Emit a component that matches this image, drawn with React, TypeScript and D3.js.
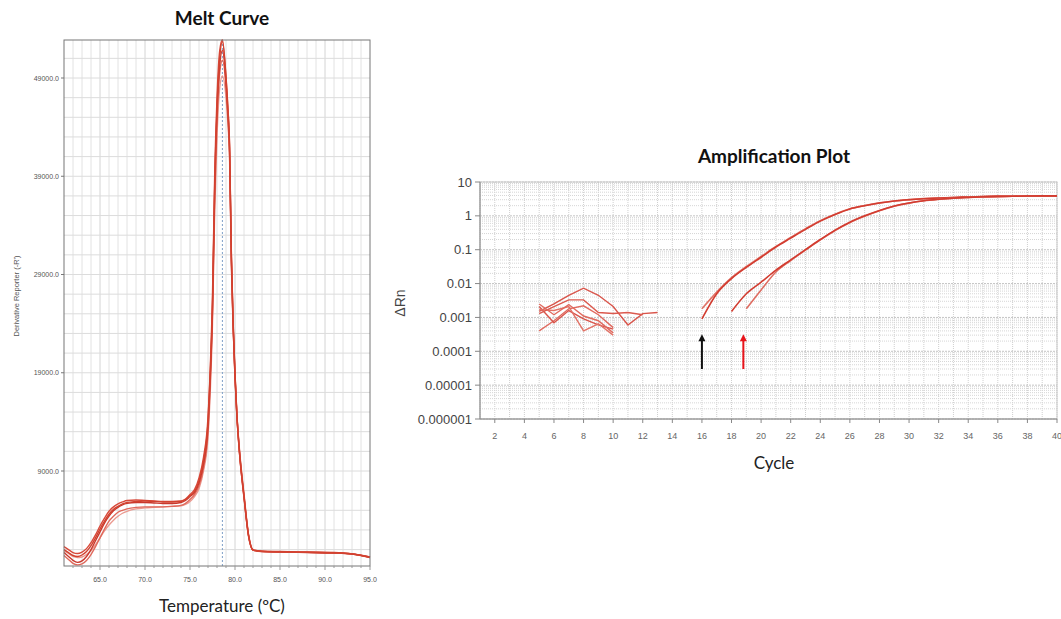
import React from "react";
import * as d3 from "d3";

// ---------- Melt curve data ----------
const meltTemps = [61, 61.5, 62, 62.5, 63, 63.5, 64, 64.5, 65, 65.5, 66, 66.5, 67, 67.5, 68, 69, 70, 71, 72, 73, 74, 74.5, 75, 75.5, 76, 76.5, 77, 77.25, 77.5, 77.75, 78, 78.3, 78.6, 79, 79.2, 79.4, 79.6, 79.8, 80, 80.2, 80.5, 81, 81.5, 82, 83, 85, 88, 91, 93, 95];
const melt1 = [1000, 700, 400, 300, 450, 800, 1400, 2200, 3100, 3900, 4600, 5100, 5400, 5650, 5800, 5900, 5950, 5900, 5850, 5850, 5900, 6100, 6500, 6900, 8000, 10000, 14000, 19000, 26000, 38500, 46000, 51000, 52700, 49000, 46000, 42000, 31000, 24000, 19000, 15000, 11000, 6500, 2500, 1000, 850, 800, 750, 700, 550, 200];
const melt2 = [700, 300, -100, -300, -150, 300, 1000, 1900, 2800, 3700, 4400, 4950, 5300, 5550, 5700, 5800, 5800, 5750, 5700, 5700, 5800, 6000, 6400, 6800, 7800, 9700, 13500, 18500, 25500, 38000, 45500, 50300, 51800, 48500, 45500, 41500, 30500, 23500, 18500, 14700, 10800, 6300, 2400, 950, 800, 750, 700, 650, 550, 250];
const melt3 = [400, 0, -400, -550, -450, -100, 500, 1300, 2200, 3100, 3900, 4400, 4800, 5000, 5150, 5300, 5350, 5350, 5350, 5400, 5500, 5700, 6100, 6600, 7500, 9300, 13000, 18000, 25000, 37000, 44500, 49500, 50800, 48000, 45000, 41000, 30000, 23500, 18500, 14800, 11000, 6500, 2500, 950, 820, 760, 720, 660, 560, 230];
const melt4 = [900, 600, 300, 200, 250, 500, 900, 1500, 2200, 2900, 3500, 4000, 4400, 4700, 4900, 5150, 5250, 5300, 5350, 5400, 5450, 5600, 5900, 6400, 7200, 9000, 12500, 17000, 24000, 35500, 43000, 48000, 49200, 47000, 44500, 40500, 30000, 23500, 18800, 15000, 11200, 6700, 2600, 1000, 830, 780, 740, 690, 580, 260];
const melt5 = [1300, 1000, 700, 600, 750, 1100, 1700, 2500, 3400, 4200, 4900, 5350, 5650, 5850, 6000, 6050, 6000, 5950, 5900, 5900, 5950, 6150, 6600, 7100, 8300, 10400, 14500, 19500, 27000, 39500, 47000, 51800, 52900, 49200, 46200, 42000, 30800, 23800, 18800, 14800, 10800, 6300, 2400, 950, 800, 780, 720, 680, 560, 200];
const meltColors = ["#d2412f", "#c9382c", "#e0695c", "#eb9a90", "#d84a3b"];
const meltXTicks = [65, 70, 75, 80, 85, 90, 95];
const meltYTicks = [9000, 19000, 29000, 39000, 49000];
const meltTm = 78.6;

// ---------- Amplification data ----------
const noiseCycles1 = [5, 6, 7, 8, 9, 10, 11, 12, 13];
const noise1 = [0.0015, 0.0025, 0.0045, 0.0073, 0.0045, 0.0021, 0.0006, 0.0013, 0.0014];
const noiseCycles2 = [5, 6, 7, 8, 9, 10];
const noise2 = [0.0004, 0.0008, 0.0018, 0.0022, 0.0012, 0.0005];
const noise3 = [0.0021, 0.0007, 0.0016, 0.0009, 0.0006, 0.00045];
const noise4 = [0.0017, 0.0016, 0.0021, 0.0004, 0.00065, 0.0003];
const noiseCycles5 = [5, 6, 7, 8, 9, 10, 11, 12];
const noise5 = [0.0013, 0.0021, 0.0033, 0.0033, 0.0014, 0.0013, 0.0014, 0.0012];
const noise6 = [0.0025, 0.0012, 0.0024, 0.0011, 0.0008, 0.00035];

const earlyCycles = [16, 17, 18, 19, 20, 21, 22, 23, 24, 25, 26, 27, 28, 29, 30, 31, 32, 33, 34, 35, 36, 37, 38, 39, 40];
const early1 = [0.0009, 0.005, 0.014, 0.03, 0.06, 0.12, 0.22, 0.4, 0.7, 1.1, 1.6, 2.0, 2.4, 2.75, 3.0, 3.2, 3.35, 3.5, 3.6, 3.7, 3.75, 3.8, 3.85, 3.88, 3.9];
const early2 = [0.0018, 0.0056, 0.015, 0.032, 0.063, 0.125, 0.23, 0.42, 0.72, 1.12, 1.62, 2.02, 2.42, 2.76, 3.02, 3.22, 3.37, 3.5, 3.61, 3.7, 3.76, 3.81, 3.86, 3.88, 3.9];
const lateCycles1 = [18, 19, 20, 21, 22, 23, 24, 25, 26, 27, 28, 29, 30, 31, 32, 33, 34, 35, 36, 37, 38, 39, 40];
const late1 = [0.0015, 0.005, 0.011, 0.025, 0.05, 0.1, 0.2, 0.38, 0.65, 1.0, 1.45, 1.95, 2.4, 2.8, 3.1, 3.35, 3.5, 3.65, 3.75, 3.8, 3.85, 3.88, 3.9];
const lateCycles2 = [19, 20, 21, 22, 23, 24, 25, 26, 27, 28, 29, 30, 31, 32, 33, 34, 35, 36, 37, 38, 39, 40];
const late2 = [0.0018, 0.0065, 0.022, 0.048, 0.098, 0.195, 0.37, 0.64, 0.98, 1.42, 1.92, 2.38, 2.78, 3.08, 3.33, 3.5, 3.65, 3.75, 3.8, 3.85, 3.88, 3.9];

const ampYTicks = [10, 1, 0.1, 0.01, 0.001, 0.0001, 0.00001, 0.000001];
const ampYLabels = ["10", "1", "0.1", "0.01", "0.001", "0.0001", "0.00001", "0.000001"];
const ampXTicks = [2, 4, 6, 8, 10, 12, 14, 16, 18, 20, 22, 24, 26, 28, 30, 32, 34, 36, 38, 40];
const arrowCycles = [16, 18.8];
const arrowColors = ["#111111", "#e8141b"];
const arrowFrom = 0.00003;
const arrowTo = 0.0003;

const TITLE_FONT = "Lato, 'Open Sans', sans-serif";

export default function App() {
  // Melt scales
  const mx = d3.scaleLinear().domain([61, 95]).range([64, 370]);
  const my = d3.scaleLinear().domain([-669, 52868]).range([566, 40]);
  const meltLine = d3
    .line<number>()
    .x((_, i) => mx(meltTemps[i]))
    .y((d) => my(d))
    .curve(d3.curveMonotoneX);
  const meltSeries = [melt4, melt3, melt2, melt5, melt1];
  const meltSeriesColors = [meltColors[3], meltColors[2], meltColors[1], meltColors[4], meltColors[0]];

  // Amp scales
  const ax = d3.scaleLinear().domain([1, 40]).range([480, 1057]);
  const ay = d3.scaleLog().domain([0.000001, 10]).range([419, 182]);
  const mkLine = (cycles: number[], curve: any) =>
    d3
      .line<number>()
      .x((_, i) => ax(cycles[i]))
      .y((d) => ay(d))
      .curve(curve);

  const minorLog: number[] = [];
  for (let e = -6; e < 1; e++) {
    for (let k = 2; k <= 9; k++) minorLog.push(k * Math.pow(10, e));
  }

  const noiseSets: [number[], number[], string][] = [
    [noiseCycles1, noise1, "#d9544a"],
    [noiseCycles2, noise2, "#e06a5f"],
    [noiseCycles2, noise3, "#d9544a"],
    [noiseCycles2, noise4, "#e27266"],
    [noiseCycles5, noise5, "#db5a4f"],
    [noiseCycles2, noise6, "#e06a5f"],
  ];
  const ampSets: [number[], number[], string][] = [
    [earlyCycles, early2, "#e07468"],
    [earlyCycles, early1, "#d23c30"],
    [lateCycles2, late2, "#de6d62"],
    [lateCycles1, late1, "#d23c30"],
  ];

  return (
    <svg
      width={1061}
      height={619}
      style={{ position: "absolute", left: 0, top: 0, background: "#fff" }}
      fontFamily="Arial, 'Liberation Sans', sans-serif"
    >
      <rect x={0} y={0} width={1061} height={619} fill="#fff" />

      {/* ================= Melt Curve ================= */}
      <text x={222} y={25} textAnchor="middle" fontSize={19} fontWeight="bold" fontFamily={TITLE_FONT} fill="#111">
        Melt Curve
      </text>
      <rect x={64} y={40} width={306} height={526} fill="#fff" />
      {d3.range(62, 95, 1).map((t) => (
        <line key={"mvg" + t} x1={mx(t)} x2={mx(t)} y1={40} y2={566} stroke={t % 5 === 0 ? "#d4d4d4" : "#e2e2e2"} strokeWidth={1} />
      ))}
      {d3.range(1000, 52868, 2000).map((v) => (
        <line key={"mhg" + v} x1={64} x2={370} y1={my(v)} y2={my(v)} stroke="#dcdcdc" strokeWidth={1} />
      ))}
      <line x1={mx(meltTm)} x2={mx(meltTm)} y1={40} y2={566} stroke="#7f9fc8" strokeWidth={1} strokeDasharray="2,2" />
      {meltSeries.map((s, i) => (
        <path key={"ml" + i} d={meltLine(s) || ""} fill="none" stroke={meltSeriesColors[i]} strokeWidth={1.4} />
      ))}
      <rect x={64} y={40} width={306} height={526} fill="none" stroke="#777" strokeWidth={1} />
      {meltYTicks.map((v) => (
        <g key={"myt" + v}>
          <line x1={61} x2={64} y1={my(v)} y2={my(v)} stroke="#777" />
          <text x={59} y={my(v) + 2.5} textAnchor="end" fontSize={7} fill="#555">
            {v.toFixed(1)}
          </text>
        </g>
      ))}
      {d3.range(62, 96, 1).map((t) => (
        <line key={"mxt" + t} x1={mx(t)} x2={mx(t)} y1={566} y2={t % 5 === 0 ? 570 : 568} stroke="#999" />
      ))}
      {meltXTicks.map((t) => (
        <text key={"mxl" + t} x={mx(t)} y={582} textAnchor="middle" fontSize={7} fill="#555">
          {t.toFixed(1)}
        </text>
      ))}
      <text transform="translate(19,296) rotate(-90)" textAnchor="middle" fontSize={7.5} fill="#555">
        Derivative Reporter (-R')
      </text>
      <text x={222} y={612} textAnchor="middle" fontSize={17} fontFamily={TITLE_FONT} fill="#222">
        Temperature (ºC)
      </text>

      {/* ================= Amplification Plot ================= */}
      <text x={774} y={163} textAnchor="middle" fontSize={19} fontWeight="bold" fontFamily={TITLE_FONT} fill="#111">
        Amplification Plot
      </text>
      {d3.range(1, 41, 1).map((c) => (
        <line key={"avg" + c} x1={ax(c)} x2={ax(c)} y1={182} y2={419} stroke="#cfcfcf" strokeWidth={1} strokeDasharray="1,1" />
      ))}
      {minorLog.map((v, i) => (
        <line key={"ahm" + i} x1={480} x2={1057} y1={ay(v)} y2={ay(v)} stroke="#d6d6d6" strokeWidth={1} strokeDasharray="1,1" />
      ))}
      {ampYTicks.map((v, i) => (
        <line key={"ahg" + i} x1={480} x2={1057} y1={ay(v)} y2={ay(v)} stroke="#c4c4c4" strokeWidth={1} strokeDasharray="2,1" />
      ))}
      <rect x={480} y={182} width={577} height={237} fill="none" stroke="#c8c8c8" strokeWidth={1} />
      <line x1={480} x2={480} y1={182} y2={419} stroke="#888" />
      <line x1={480} x2={1057} y1={419} y2={419} stroke="#888" />
      {noiseSets.map(([cy, vals, col], i) => (
        <path key={"an" + i} d={mkLine(cy, d3.curveLinear)(vals) || ""} fill="none" stroke={col} strokeWidth={1.4} />
      ))}
      {ampSets.map(([cy, vals, col], i) => (
        <path key={"aa" + i} d={mkLine(cy, d3.curveMonotoneX)(vals) || ""} fill="none" stroke={col} strokeWidth={1.6} />
      ))}
      {ampYTicks.map((v, i) => (
        <g key={"ayt" + i}>
          <line x1={475} x2={480} y1={ay(v)} y2={ay(v)} stroke="#888" />
          <text x={472} y={ay(v) + 4.5} textAnchor="end" fontSize={13} fill="#444">
            {ampYLabels[i]}
          </text>
        </g>
      ))}
      {ampXTicks.map((c) => (
        <g key={"axt" + c}>
          <line x1={ax(c)} x2={ax(c)} y1={419} y2={423} stroke="#888" />
          <text x={ax(c)} y={439} textAnchor="middle" fontSize={9} fill="#666">
            {c}
          </text>
        </g>
      ))}
      <text transform="translate(405,303) rotate(-90)" textAnchor="middle" fontSize={14} fill="#444">
        ΔRn
      </text>
      <text x={774} y={469} textAnchor="middle" fontSize={17} fontFamily={TITLE_FONT} fill="#222">
        Cycle
      </text>
      {arrowCycles.map((c, i) => (
        <g key={"arr" + i}>
          <line x1={ax(c)} x2={ax(c)} y1={ay(arrowFrom)} y2={ay(arrowTo) + 4} stroke={arrowColors[i]} strokeWidth={2} />
          <path
            d={`M${ax(c) - 3.5},${ay(arrowTo) + 6} L${ax(c)},${ay(arrowTo) - 1} L${ax(c) + 3.5},${ay(arrowTo) + 6} Z`}
            fill={arrowColors[i]}
          />
        </g>
      ))}
    </svg>
  );
}
